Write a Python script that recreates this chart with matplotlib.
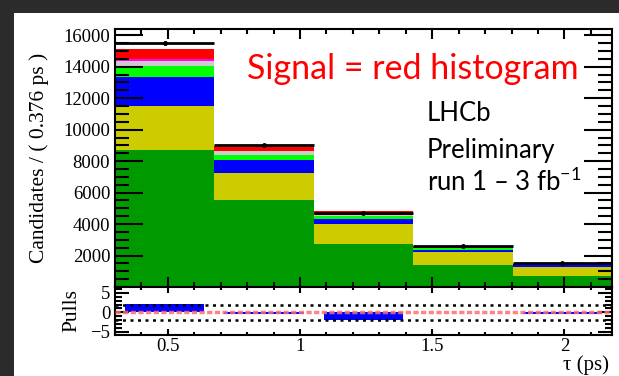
import numpy as np
import matplotlib
matplotlib.use("Agg")
import matplotlib.pyplot as plt
from matplotlib.ticker import MultipleLocator

# ---- data: decay-time fit, 5 bins of 0.376 ps ----
bin_edges = [0.3, 0.676, 1.052, 1.428, 1.804, 2.18]
comp_darkgreen = [8730, 5500, 2745, 1410, 680]
comp_yellow = [2760, 1770, 1230, 845, 620]
comp_blue = [1830, 780, 365, 125, 170]
comp_green = [740, 365, 165, 85, 20]
comp_gray = [315, 210, 55, 25, 10]
comp_magenta = [110, 45, 30, 20, 10]
comp_signal = [655, 270, 210, 125, 25]
data_counts = [15485, 9005, 4690, 2590, 1530]
data_errors = [125, 95, 70, 50, 40]
pulls = [2.1, -0.5, -2.0, 0.2, -0.5]

components = [comp_darkgreen, comp_yellow, comp_blue, comp_green,
              comp_gray, comp_magenta, comp_signal]
colors = ["#009900", "#cccc00", "#0000ff", "#00ff00",
          "#cccccc", "#ff00ff", "#ff0000"]

plt.rcParams["mathtext.fontset"] = "custom"
plt.rcParams["mathtext.rm"] = "Lato"
serif = "Liberation Serif"

W, H = 619, 376
fig = plt.figure(figsize=(W / 100, H / 100), dpi=100)
fig.patch.set_facecolor("#2b2b2b")

# white slide area behind the plot
bg = fig.add_axes([14 / W, 0, 1 - 14 / W, 1 - 13 / H])
bg.set_facecolor("white")
bg.set_xticks([])
bg.set_yticks([])
for s in bg.spines.values():
    s.set_visible(False)

left, right = 115 / W, 612 / W
ax = fig.add_axes([left, 1 - 287 / H, right - left, (287 - 29) / H])
axp = fig.add_axes([left, 1 - 335 / H, right - left, (335 - 287) / H])

edges = np.array(bin_edges)
width = np.diff(edges)
centers = edges[:-1] + width / 2

# stacked fit components
bottom = np.zeros(len(centers))
for vals, c in zip(components, colors):
    ax.bar(edges[:-1], vals, width=width, bottom=bottom, align="edge",
           color=c, linewidth=0)
    bottom += np.array(vals)

ax.errorbar(centers, data_counts, xerr=width / 2, yerr=data_errors,
            fmt="o", ms=2.5, color="k", elinewidth=2, capsize=0, zorder=5)

ax.set_xlim(0.3, 2.18)
ax.set_ylim(0, 16400)
ax.yaxis.set_minor_locator(MultipleLocator(500))
ax.xaxis.set_major_locator(MultipleLocator(0.5))
ax.xaxis.set_minor_locator(MultipleLocator(0.1))
ax.set_yticks([2000, 4000, 6000, 8000, 10000, 12000, 14000, 16000])
ax.tick_params(axis="both", which="both", direction="in",
               top=True, right=True, width=1.5, labelsize=13.5)
ax.tick_params(axis="y", which="major", length=20)
ax.tick_params(axis="y", which="minor", length=10)
ax.tick_params(axis="x", which="major", length=7)
ax.tick_params(axis="x", which="minor", length=3.5)
ax.tick_params(axis="x", labelbottom=False)
for lab in ax.get_yticklabels():
    lab.set_fontfamily(serif)
for s in ax.spines.values():
    s.set_linewidth(1.5)
ax.set_ylabel("Candidates / ( 0.376 ps )", fontsize=15.5, family=serif)
ax.yaxis.set_label_coords(-0.133, 0.5)

ax.text(0.265, 0.845, "Signal = red histogram", transform=ax.transAxes,
        color="#ff0000", fontsize=24.5, family="Lato", va="center")
ax.text(0.627, 0.674, "LHCb", transform=ax.transAxes, fontsize=18.5,
        family="Lato", va="center")
ax.text(0.627, 0.531, "Preliminary", transform=ax.transAxes, fontsize=18.5,
        family="Lato", va="center")
ax.text(0.627, 0.407, "run 1 \u2013 3 fb$^{\\mathrm{-1}}$", transform=ax.transAxes,
        fontsize=18.5, family="Lato", va="center")

# pull panel
axp.bar(centers, pulls, width=0.8 * width, color="#0000ff", linewidth=0)
axp.axhline(0, color="#ff7070", lw=2.5, ls=(0, (1.5, 0.7)), zorder=4, alpha=0.85)
for yv in (2, -2):
    axp.axhline(yv, color="k", lw=1.8, ls=(0, (1.2, 1.8)))
axp.set_xlim(0.3, 2.18)
axp.set_ylim(-5.8, 6.5)
axp.set_yticks([-5, 0, 5])
axp.set_yticklabels(["\u22125", "0", "5"])
axp.yaxis.set_minor_locator(MultipleLocator(1))
axp.xaxis.set_minor_locator(MultipleLocator(0.1))
axp.set_xticks([0.5, 1.0, 1.5, 2.0])
axp.set_xticklabels(["0.5", "1", "1.5", "2"])
axp.tick_params(axis="both", which="both", direction="in",
                top=True, right=True, width=1.5, labelsize=13.5)
axp.tick_params(axis="y", which="major", length=10)
axp.tick_params(axis="y", which="minor", length=5)
axp.tick_params(axis="x", which="major", length=4, pad=2)
axp.tick_params(axis="x", which="minor", length=2)
for lab in axp.get_yticklabels() + axp.get_xticklabels():
    lab.set_fontfamily(serif)
for s in axp.spines.values():
    s.set_linewidth(1.5)
axp.set_ylabel("Pulls", fontsize=15.5, family=serif)
axp.yaxis.set_label_coords(-0.068, 0.5)
axp.set_xlabel("\u03c4 (ps)", fontsize=15, family=serif)
axp.xaxis.set_label_coords(0.948, -0.43)

fig.savefig("out.png", dpi=100, facecolor=fig.get_facecolor())
